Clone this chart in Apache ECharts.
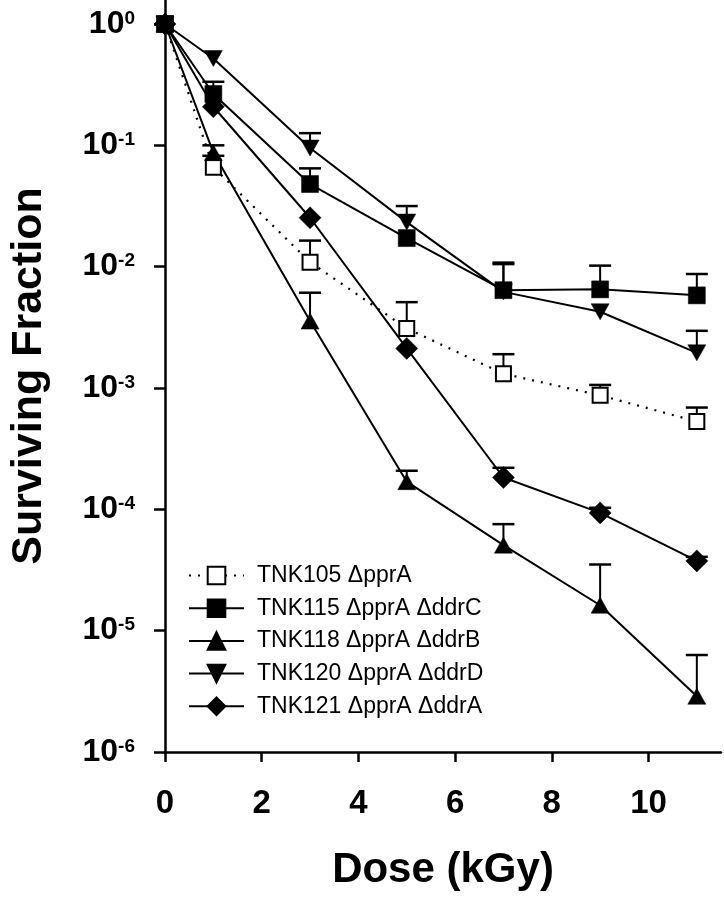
<!DOCTYPE html>
<html>
<head>
<meta charset="utf-8">
<script src="https://cdn.jsdelivr.net/npm/echarts@6/dist/echarts.min.js"></script>
<style>
  html, body { margin: 0; padding: 0; background: #fff; }
  #chart { width: 724px; height: 899px; }
</style>
</head>
<body>
<div id="chart"></div>
<script>
// ---- data ----
const dose = [0, 1, 3, 5, 7, 9, 11];
const xTicks = [0, 2, 4, 6, 8, 10];
const yTicks = [1e-6, 1e-5, 1e-4, 1e-3, 1e-2, 1e-1, 1];
const seriesNames = [
  'TNK105 ΔpprA',
  'TNK115 ΔpprA ΔddrC',
  'TNK118 ΔpprA ΔddrB',
  'TNK120 ΔpprA ΔddrD',
  'TNK121 ΔpprA ΔddrA'
];
const tnk105 = [1, 0.066, 0.0109, 0.0031, 0.00131, 0.00087, 0.00053];
const tnk105Err = [null, 0.082, 0.0164, 0.0051, 0.0019, 0.00106, 0.00069];
const tnk115 = [1, 0.265, 0.048, 0.0172, 0.0064, 0.0065, 0.0058];
const tnk115Err = [null, 0.334, 0.0646, null, 0.0108, 0.0102, 0.0087];
const tnk118 = [1, 0.087, 0.00356, 0.000169, 0.0000507, 0.0000162, 0.00000288];
const tnk118Err = [null, 0.1, 0.0061, 0.000208, 0.0000755, 0.0000351, 0.0000063];
const tnk120 = [1, 0.52, 0.095, 0.0233, 0.0062, 0.00425, 0.00195];
const tnk120Err = [null, null, 0.126, 0.0316, 0.0105, null, 0.00296];
const tnk121 = [1, 0.208, 0.0253, 0.00212, 0.000183, 0.0000935, 0.0000376];
const tnk121Err = [null, null, null, null, 0.00022, 0.000103, 0.0000406];

const values = [tnk105, tnk115, tnk118, tnk120, tnk121];
const errors = [tnk105Err, tnk115Err, tnk118Err, tnk120Err, tnk121Err];

// ---- styles ----
const FONT = '"Liberation Sans", Arial, Helvetica, sans-serif';
const symbols = ['rect', 'rect', 'triangle', 'path://M0,0 L10,0 L5,9 Z', 'diamond'];
const sizes = [15, 17, [18, 16], [18, 16], 22];
const fills = ['#fff', '#000', '#000', '#000', '#000'];

const chart = echarts.init(document.getElementById('chart'), null, { renderer: 'canvas' });

const series = [];
// error bars (drawn under markers)
values.forEach((vals, i) => {
  const errData = [];
  dose.forEach((d, j) => {
    if (errors[i][j] != null) errData.push([d, vals[j], errors[i][j]]);
  });
  series.push({
    type: 'custom',
    name: seriesNames[i] + ' err',
    z: 1,
    silent: true,
    data: errData,
    renderItem: function (params, api) {
      const p = api.coord([api.value(0), api.value(1)]);
      const t = api.coord([api.value(0), api.value(2)]);
      return {
        type: 'group',
        children: [
          { type: 'line', shape: { x1: p[0], y1: p[1], x2: t[0], y2: t[1] }, style: { stroke: '#000', lineWidth: 2 } },
          { type: 'line', shape: { x1: t[0] - 11, y1: t[1], x2: t[0] + 11, y2: t[1] }, style: { stroke: '#000', lineWidth: 2.5 } }
        ]
      };
    }
  });
});
values.forEach((vals, i) => {
  series.push({
    type: 'line',
    name: seriesNames[i],
    z: 3,
    data: dose.map((d, j) => [d, vals[j]]),
    symbol: symbols[i],
    symbolSize: sizes[i],
    showAllSymbol: true,
    lineStyle: { color: '#000', width: i === 0 ? 2.2 : 2, type: i === 0 ? [2, 7] : 'solid' },
    itemStyle: { color: fills[i], borderColor: '#000', borderWidth: i === 0 ? 2 : 0.5, opacity: 1 },
    emphasis: { disabled: true },
    animation: false
  });
});

const option = {
  animation: false,
  backgroundColor: '#fff',
  grid: { left: 161, right: 3, top: 0, bottom: 147, containLabel: false },
  legend: {
    data: seriesNames,
    orient: 'vertical',
    left: 188,
    top: 564,
    padding: 0,
    itemWidth: 55,
    itemHeight: 22,
    itemGap: 9.7,
    selectedMode: false,
    textStyle: { fontFamily: FONT, fontSize: 23, color: '#000', lineHeight: 22, padding: [0, 0, 0, 8] }
  },
  xAxis: {
    type: 'value',
    min: 0,
    max: 11.5,
    interval: 2,
    name: 'Dose (kGy)',
    nameLocation: 'middle',
    nameGap: 97,
    nameTextStyle: { fontFamily: FONT, fontSize: 42, fontWeight: 'bold', color: '#000' },
    axisLine: { show: true, onZero: false, lineStyle: { color: '#000', width: 2.5 } },
    axisTick: { show: true, inside: false, length: 10, lineStyle: { color: '#000', width: 2.5 }, customValues: xTicks },
    axisLabel: { show: true, customValues: xTicks, margin: 35, fontFamily: FONT, fontSize: 33, fontWeight: 'bold', color: '#000' },
    splitLine: { show: false }
  },
  yAxis: {
    type: 'log',
    logBase: 10,
    min: 1e-6,
    max: 1.577,
    offset: 3,
    name: 'Surviving Fraction',
    nameLocation: 'middle',
    nameGap: 111,
    nameTextStyle: { fontFamily: FONT, fontSize: 43, fontWeight: 'bold', color: '#000' },
    axisLine: { show: true, lineStyle: { color: '#000', width: 2.5 } },
    axisTick: { show: true, inside: false, length: 11, lineStyle: { color: '#000', width: 2.5 }, customValues: yTicks },
    axisLabel: {
      show: true,
      customValues: yTicks,
      margin: 27,
      formatter: function (v) {
        const e = Math.round(Math.log10(v));
        return '{b|10}{s|' + e + '}';
      },
      rich: {
        b: { fontFamily: FONT, fontSize: 32, fontWeight: 'bold', color: '#000', lineHeight: 30 },
        s: { fontFamily: FONT, fontSize: 19, fontWeight: 'bold', color: '#000', lineHeight: 18, verticalAlign: 'top' }
      }
    },
    splitLine: { show: false }
  },
  series: series
};
chart.setOption(option);
</script>
</body>
</html>
